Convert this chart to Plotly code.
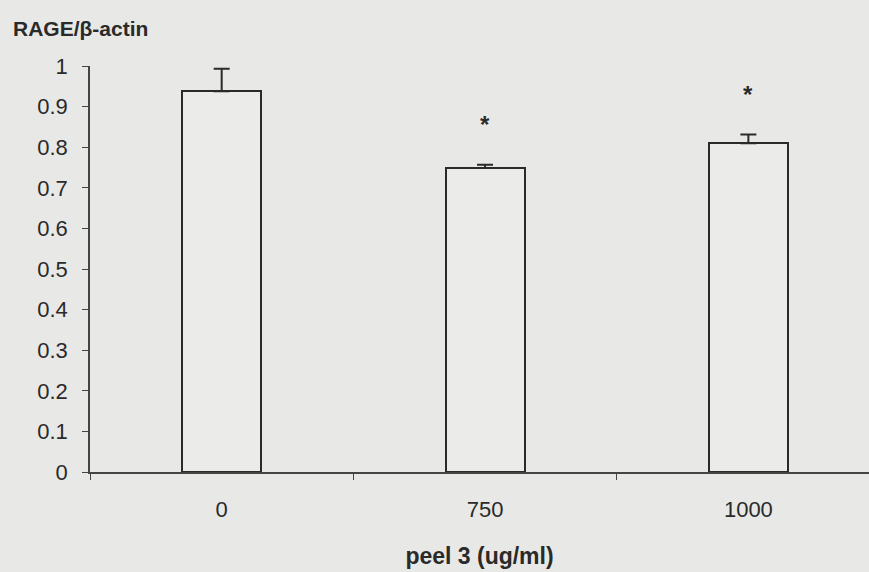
import plotly.graph_objects as go

categories = ["0", "750", "1000"]
values = [0.938, 0.749, 0.810]
errors = [0.055, 0.008, 0.021]
significant = [False, True, True]
y_ticks = [0, 0.1, 0.2, 0.3, 0.4, 0.5, 0.6, 0.7, 0.8, 0.9, 1]
y_tick_labels = ["0", "0.1", "0.2", "0.3", "0.4", "0.5", "0.6", "0.7", "0.8", "0.9", "1"]

bg = "#e8e8e6"
ink = "#2a2a2a"

fig = go.Figure()
fig.add_trace(go.Bar(
    x=categories, y=values, width=0.3,
    marker=dict(color="#ebebe9", line=dict(color=ink, width=2)),
    error_y=dict(type="data", array=errors, arrayminus=[0] * len(errors),
                 symmetric=False, color=ink, thickness=2, width=8),
    showlegend=False,
))

for i, (v, e, s) in enumerate(zip(values, errors, significant)):
    if s:
        fig.add_annotation(x=i, y=v + e, text="<b>*</b>", showarrow=False,
                           yanchor="middle", yshift=40,
                           font=dict(family="Arial", size=24, color=ink))

fig.update_layout(
    width=869, height=572,
    paper_bgcolor=bg, plot_bgcolor=bg,
    margin=dict(l=90, r=0, t=66, b=100),
    font=dict(family="Arial", color=ink),
    bargap=0,
    xaxis=dict(
        type="category", range=[-0.5, 2.458],
        showgrid=False, zeroline=False,
        showline=True, linecolor="#444", linewidth=1.5,
        ticks="outside", tickson="boundaries", ticklen=6, tickcolor="#444",
        ticklabelstandoff=17,
        tickfont=dict(family="Arial", size=22, color=ink),
        title=dict(text="<b>peel 3 (ug/ml)</b>", font=dict(family="Arial", size=23, color=ink),
                   standoff=27),
    ),
    yaxis=dict(
        range=[0, 1], tickvals=y_ticks, ticktext=y_tick_labels,
        showgrid=False, zeroline=False,
        showline=True, linecolor="#444", linewidth=1.5,
        ticks="outside", ticklen=6, tickcolor="#444",
        ticklabelstandoff=10,
        tickfont=dict(family="Arial", size=22, color=ink),
    ),
)
fig.add_annotation(xref="paper", yref="paper", x=-79 / 779, y=1, yshift=38,
                   xanchor="left", yanchor="middle", showarrow=False,
                   text="<b>RAGE/β-actin</b>",
                   font=dict(family="Arial", size=21, color=ink))

fig.write_html("out.html", config={"displayModeBar": False},
               post_script="document.body.style.margin='0';document.body.style.background='" + bg + "';")
